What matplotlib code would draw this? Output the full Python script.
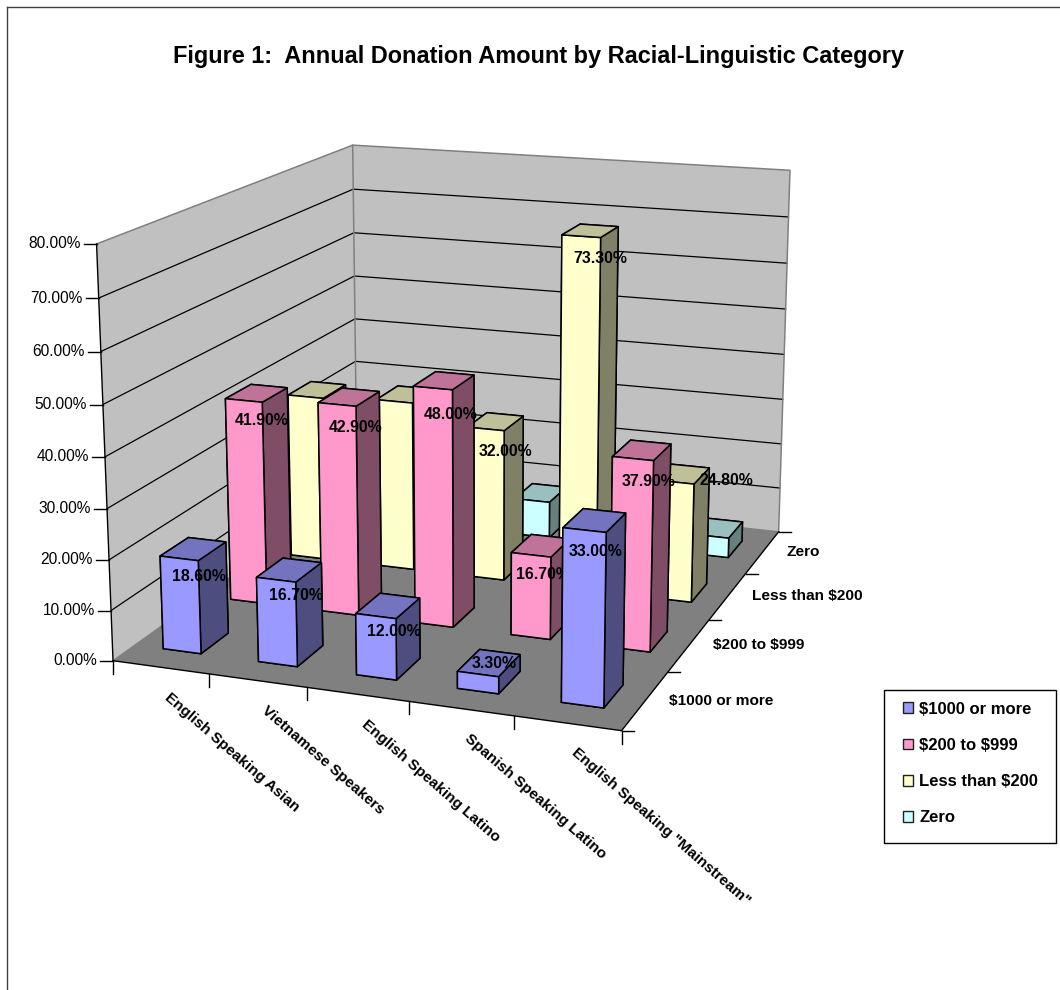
import numpy as np
import matplotlib
matplotlib.use("Agg")
import matplotlib.pyplot as plt
from matplotlib.patches import Patch, Rectangle
from mpl_toolkits.mplot3d.art3d import Poly3DCollection

categories = ["English Speaking Asian", "Vietnamese Speakers", "English Speaking Latino",
              "Spanish Speaking Latino", 'English Speaking "Mainstream"']
series = ["$1000 or more", "$200 to $999", "Less than $200", "Zero"]
v1000 = [18.6, 16.7, 12.0, 3.3, 33.0]
v200 = [41.9, 42.9, 48.0, 16.7, 37.9]
vless = [35.2, 36.0, 32.0, 73.3, 24.8]
vzero = [4.3, 4.4, 8.0, 6.7, 4.3]
values = [v1000, v200, vless, vzero]
z_ticks = [0, 10, 20, 30, 40, 50, 60, 70, 80]

# which bars carry a printed value in the reference
labelled = [[1, 1, 1, 1, 1], [1, 1, 1, 1, 1], [0, 0, 1, 1, 1], [0, 0, 0, 0, 0]]
# nudges of the printed values, in pixels (right, down)
nudge_x = [[0, 1, 1, 0, -4], [0, 2, 2, -3, 2], [0, 0, 6, 6, 40], [0, 0, 0, 0, 0]]
nudge_y = [[2, 0, 0, -26, 4], [3, 6, 9, 4, 5], [0, 0, 6, 3, -24], [0, 0, 0, 0, 0]]

front_cols = ["#9999FF", "#FF99CC", "#FFFFCC", "#CCFFFF"]
top_cols = ["#7373BF", "#BF7399", "#BFBF99", "#99BFBF"]
side_cols = ["#4D4D80", "#804D66", "#808066", "#668080"]

W, H = 1060, 990
FONT = "Liberation Sans"
plt.rcParams["font.family"] = FONT

# camera calibration: chart-space points and where the reference shows them
cal_world = np.array([
    (0, 0, 80), (0, 0, 70), (0, 0, 60), (0, 0, 50), (0, 0, 0),
    (0, 4, 80), (0, 4, 70), (0, 4, 60), (0, 4, 50), (0, 4, 40), (0, 4, 30),
    (5, 0, 0), (5, 4, 0), (5, 4, 80), (5, 4, 20), (5, 4, 10),
    (1, 0, 0), (2, 0, 0), (5, 1, 0), (5, 2, 0), (5, 3, 0)], float)
cal_px = np.array([
    (96.7, 244), (98.7, 298.3), (100.7, 351.7), (103, 405), (112.7, 660.3),
    (352.7, 144.7), (353, 189.3), (354, 232.7), (354.7, 276), (355, 319), (355.5, 361.3),
    (620.7, 730), (778.3, 531.7), (790, 170), (780.5, 444), (779.5, 488.3),
    (208.7, 673.3), (307.3, 688), (668.3, 672.3), (710, 620), (746.7, 574)], float)
A = []
for (X, Y, Z), (u, v) in zip(cal_world, cal_px):
    A.append([X, Y, Z, 1, 0, 0, 0, 0, -u * X, -u * Y, -u * Z, -u])
    A.append([0, 0, 0, 0, X, Y, Z, 1, -v * X, -v * Y, -v * Z, -v])
P = np.linalg.svd(np.array(A))[2][-1].reshape(3, 4)
if P[2] @ np.array([2.5, 2, 40, 1]) < 0:
    P = -P
P = P / (P[2] @ np.array([2.5, 2, 40, 1]))
M = np.vstack([P[0], P[1], P[2] - np.array([0, 0, 0, 0.5]), P[2]])


def px(x, y, z):
    h = P @ np.array([x, y, z, 1.0])
    return h[0] / h[2], h[1] / h[2]


fig = plt.figure(figsize=(W / 100, H / 100), dpi=100, facecolor="white")
ax = fig.add_axes([0, 0, 1, 1], projection="3d", computed_zorder=False)
ax.set_proj_type("ortho")
ax.set_axis_off()
ax.patch.set_visible(False)
ax.apply_aspect = lambda position=None: None
ax.get_proj = lambda: M

n_x, n_y, z_max = len(categories), len(series), z_ticks[-1]

# walls and floor
back = [(0, n_y, 0), (n_x, n_y, 0), (n_x, n_y, z_max), (0, n_y, z_max)]
left = [(0, 0, 0), (0, n_y, 0), (0, n_y, z_max), (0, 0, z_max)]
floor = [(0, 0, 0), (n_x, 0, 0), (n_x, n_y, 0), (0, n_y, 0)]
for poly, col in ((back, "#C0C0C0"), (left, "#C0C0C0"), (floor, "#808080")):
    ax.add_collection3d(Poly3DCollection([poly], facecolor=col, edgecolor="none", zorder=1))

for z in z_ticks[1:-1]:
    ax.plot([0, 0, n_x], [0, n_y, n_y], [z, z, z], color="black", lw=0.9, zorder=2)
ax.plot([0, 0, n_x, n_x], [0, n_y, n_y, n_y], [z_max, z_max, z_max, 0], color="#808080", lw=1.1, zorder=2)
ax.plot([0, 0], [n_y, n_y], [0, z_max], color="#808080", lw=1.1, zorder=2)
ax.plot([0, 0], [0, n_y], [0, 0], color="#808080", lw=1.0, zorder=2)
ax.plot([0, n_x], [n_y, n_y], [0, 0], color="#808080", lw=1.0, zorder=2)
ax.plot([0, 0], [0, 0], [0, z_max], color="black", lw=1.0, zorder=2)
ax.plot([0, n_x, n_x], [0, 0, n_y], [0, 0, 0], color="black", lw=1.0, zorder=2)

# bars and their labels, painted from the back row forward
bw, bd = 0.40, 0.40
x_off, y_off = 0.30, 0.30
order = 10
for j in range(n_y - 1, -1, -1):
    for i in range(n_x):
        val = values[j][i]
        ax.bar3d(i + x_off, j + y_off, 0, bw, bd, val,
                 color=[front_cols[j], top_cols[j], front_cols[j], front_cols[j], side_cols[j], side_cols[j]],
                 shade=False, edgecolor="black", linewidth=1.1, zorder=order)
        if labelled[j][i]:
            ax.text(i + 0.55 + nudge_x[j][i] / 100, j + 0.5, val - 5 - nudge_y[j][i] / 5.2, f"{val:.2f}%",
                    ha="center", va="center", fontsize=11.4, fontweight="bold", color="black",
                    zorder=order + 1, parse_math=False)
        order += 2

ax.set_xticks([])
ax.set_yticks([])
ax.set_zticks([])
ax.viewLim.intervalx = (0, W)
ax.viewLim.intervaly = (H, 0)

# overlay in pixel units: ticks, axis labels, title, legend, frame
ov = fig.add_axes([0, 0, 1, 1], facecolor="none")
ov.set_xlim(0, W)
ov.set_ylim(H, 0)
ov.set_xticks([])
ov.set_yticks([])
ov.set_axis_off()

ov.plot([7, 7], [H, 7], color="#404040", lw=1.0)
ov.plot([7, W], [7, 7], color="#404040", lw=1.0)

for z in z_ticks:
    u, v = px(0, 0, z)
    ov.plot([u - 13, u], [v, v], color="black", lw=1.0)
    ov.text(u - 16, v, f"{z:.2f}%", ha="right", va="center", fontsize=11.2, color="black")
for i in range(n_x + 1):
    u, v = px(i, 0, 0)
    ov.plot([u, u], [v, v + 13], color="black", lw=1.0)
for j in range(n_y + 1):
    u, v = px(n_x, j, 0)
    ov.plot([u, u + 12], [v, v], color="black", lw=1.0)
for i, lab in enumerate(categories):
    u, v = px(i + 0.5, 0, 0)
    ov.text(u + 6, v + 28, lab, rotation=-41, rotation_mode="anchor", ha="left", va="center",
            fontsize=11, fontweight="bold", color="black")
for j, lab in enumerate(series):
    u, v = px(n_x, j + 0.5, 0)
    ov.text(u + 24, v, lab, ha="left", va="center", fontsize=11.1, fontweight="bold", color="black",
            parse_math=False)

ov.text(538.5, 56, "Figure 1:  Annual Donation Amount by Racial-Linguistic Category",
        ha="center", va="center", fontsize=16.95, fontweight="bold", color="black")

ov.add_patch(Rectangle((884, 690), 172, 153, facecolor="white", edgecolor="black", linewidth=1.0, zorder=3))
handles = [Patch(facecolor=c, edgecolor="#202020", linewidth=1.0) for c in front_cols]
leg = ov.legend(handles, series, loc="upper left", bbox_to_anchor=(903, 701.5),
                bbox_transform=ov.transData, borderaxespad=0, borderpad=0,
                prop={"weight": "bold", "size": 12, "family": FONT},
                handlelength=0.62, handleheight=0.62, handletextpad=0.36, labelspacing=1.28,
                frameon=False)
leg.set_zorder(4)
for t in leg.get_texts():
    t.set_parse_math(False)

fig.savefig("out.png", dpi=100, facecolor="white")
